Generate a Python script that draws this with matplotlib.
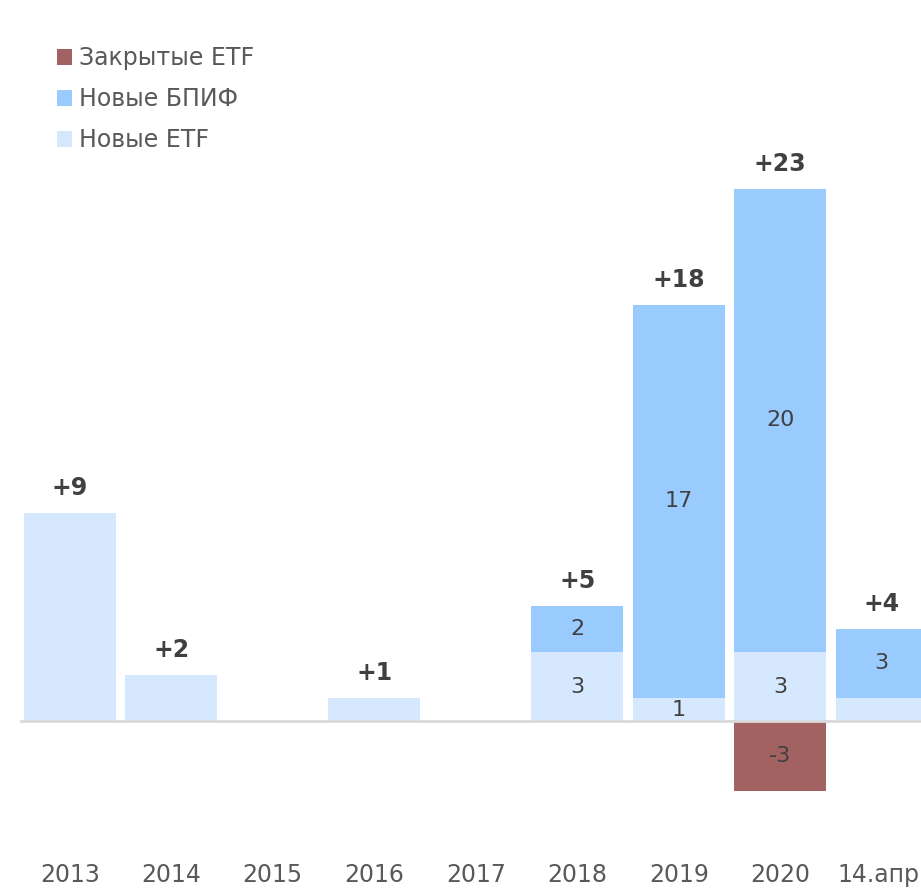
import matplotlib
matplotlib.use("Agg")
import matplotlib.pyplot as plt
import numpy as np

# data
periods = ["2013", "2014", "2015", "2016", "2017", "2018", "2019", "2020", "14.апр."]
new_etf = [9, 2, 0, 1, 0, 3, 1, 3, 1]
new_bpif = [0, 0, 0, 0, 0, 2, 17, 20, 3]
closed_etf = [0, 0, 0, 0, 0, 0, 0, -3, 0]
totals = ["+9", "+2", "", "+1", "", "+5", "+18", "+23", "+4"]
etf_labels = ["", "", "", "", "", "3", "1", "3", ""]
bpif_labels = ["", "", "", "", "", "2", "17", "20", "3"]
closed_labels = ["", "", "", "", "", "", "", "-3", ""]

c_closed = "#a36262"
c_bpif = "#9acbff"
c_etf = "#d5e8fd"
txt = "#595959"
dark = "#404040"

plt.rcParams['font.family'] = ['DejaVu Sans']

fig = plt.figure(figsize=(9.21, 8.90), dpi=100)
# axes extend slightly past the right edge (last bar is cut in the reference)
ax = fig.add_axes([20 / 921, 53 / 890, 1.0, 30 * 23.15 / 890])

x = np.arange(len(periods))
w = 0.91
b_etf = ax.bar(x, new_etf, w, color=c_etf, label="Новые ETF", zorder=2)
b_bpif = ax.bar(x, new_bpif, w, bottom=new_etf, color=c_bpif, label="Новые БПИФ", zorder=2)
b_cl = ax.bar(x, closed_etf, w, color=c_closed, label="Закрытые ETF", zorder=2)

ax.set_xlim(-0.49, -0.49 + 921 / 101.5)
ax.set_ylim(-5, 25)
ax.axhline(0, color="#d9d9d9", lw=2, zorder=3)

for i in range(len(periods)):
    if etf_labels[i]:
        ax.text(x[i], new_etf[i] / 2, etf_labels[i], ha="center", va="center",
                fontsize=16, color=dark, zorder=4)
    if bpif_labels[i]:
        ax.text(x[i], new_etf[i] + new_bpif[i] / 2, bpif_labels[i], ha="center",
                va="center", fontsize=16, color=dark, zorder=4)
    if closed_labels[i]:
        ax.text(x[i], closed_etf[i] / 2, closed_labels[i], ha="center",
                va="center", fontsize=16, color=dark, zorder=4)
    if totals[i]:
        ax.annotate(totals[i], (x[i], new_etf[i] + new_bpif[i]), xytext=(0, 18),
                    textcoords="offset points", ha="center", va="center",
                    fontsize=17, fontweight="bold", color=dark)

ax.set_xticks(x)
ax.set_xticklabels(periods, fontsize=17, color=txt)
ax.tick_params(axis="x", length=0, pad=19)
ax.set_yticks([])
for s in ax.spines.values():
    s.set_visible(False)

fig.legend(handles=[b_cl, b_bpif, b_etf], loc="upper left",
           bbox_to_anchor=(57 / 921, 1 - 46 / 890), frameon=False,
           fontsize=17, labelcolor=txt, handlelength=0.65, handleheight=0.65,
           handletextpad=0.3, labelspacing=0.72, borderaxespad=0, borderpad=0)

fig.savefig("out.png", dpi=100)
